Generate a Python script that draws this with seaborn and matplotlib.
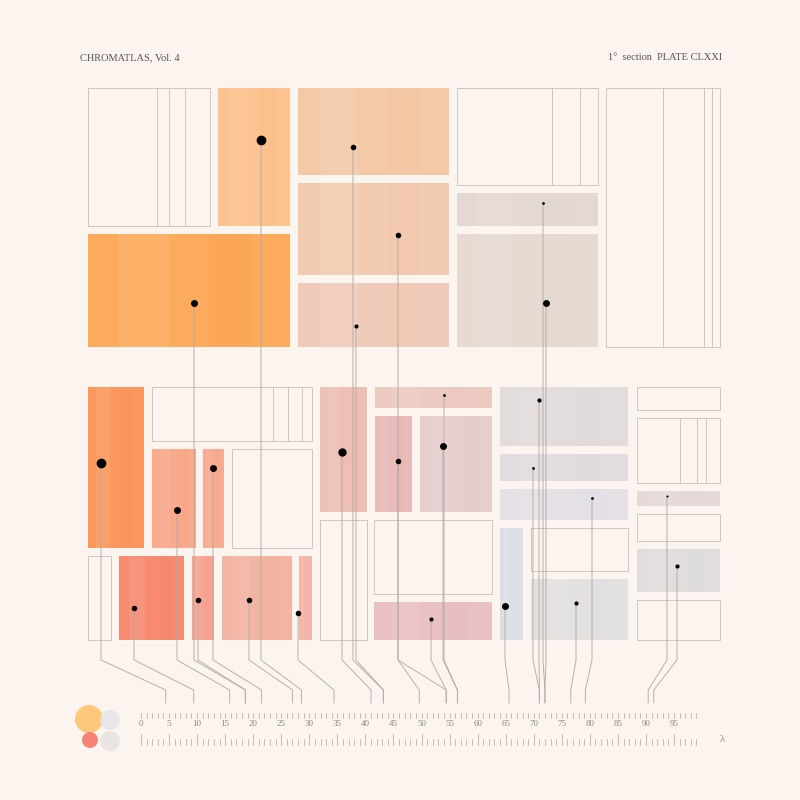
import matplotlib
matplotlib.use("Agg")
import matplotlib.pyplot as plt
import seaborn as sns
from matplotlib.patches import Rectangle, Circle

sns.set_theme(style="white")
plt.rcParams['font.family'] = ['Liberation Serif', 'DejaVu Serif']

BG = "#fcf4ee"
# blocks: x0, y0, x1, y1, fill (None = outline only)
blk_x0 = [88,218,298,298,298,88,457,457,457,606, 88,152,152,203,232,88,119,192,222,299,320,375,375,420,320,374,374,500,500,500,500,531,531,637,637,637,637,637,637]
blk_y0 = [88,88,88,183,283,234,88,193,234,88, 387,387,449,449,449,556,556,556,556,556,387,387,416,416,520,520,602,387,454,489,528,528,579,387,418,491,514,549,600]
blk_x1 = [210,290,449,449,449,290,598,598,598,720, 144,312,196,224,312,111,184,214,292,312,367,492,412,492,367,492,492,628,628,628,523,628,628,720,720,720,720,720,720]
blk_y1 = [226,226,175,275,347,347,185,226,347,347, 548,441,548,548,548,640,640,640,640,640,512,408,512,512,640,594,640,446,481,520,640,571,640,410,483,506,541,592,640]
blk_col = [None,"#fdc08a","#f3c7a3","#f2c9ad","#f1c9b7","#fda654",None,"#e3d7d1","#e5d9d2",None,
           "#fd9356",None,"#f9a587","#f8a78b",None,None,"#f7866b","#f5a08c","#f4b1a0","#f3b2a3",
           "#eebcb2","#ecc8c0","#e8b8b6","#e5cccc",None,None,"#e8bec2","#e2dbdc","#e1dbe0","#e3dfe6",
           "#dcdee6",None,"#e2dfe0",None,None,"#e4d9d7",None,"#dfdcdc",None]
# inner rules of outline blocks
rule_x = [157,169,185,552,580,663,704,712,273,288,302,680,697,706]
rule_y0 = [88,88,88,88,88,88,88,88,387,387,387,418,418,418]
rule_y1 = [226,226,226,185,185,347,347,347,441,441,441,483,483,483]

# markers: position, size, lambda end
dot_x = [101,134,177,194,198,213,249,261,298,342,353,356,398,398,431,443,444,505,533,539,543,546,576,592,667,677]
dot_y = [463,608,510,303,600,468,600,140,613,452,147,326,235,461,619,446,395,606,468,400,203,303,603,498,496,566]
dot_s = [7,4,5,5,4,5,4,7,4,6,4,3,4,4,3,5,2,5,2,3,2,5,3,2,1.5,3]
dot_lam = [4.4,9.4,15.8,18.6,18.6,21.5,27,28.6,34.4,41,43.2,43.2,49.6,54.4,54.4,56.4,56.4,65.6,71,71,72,72,76.6,79.2,90.4,91.4]

ticks_major = list(range(0, 100, 5))

fig = plt.figure(figsize=(8, 8), dpi=100, facecolor=BG)
ax = fig.add_axes([0, 0, 1, 1])
ax.set_xlim(0, 800); ax.set_ylim(800, 0); ax.axis("off")
ax.set_facecolor(BG)

for x0, y0, x1, y1, c in zip(blk_x0, blk_y0, blk_x1, blk_y1, blk_col):
    if c is None:
        ax.add_patch(Rectangle((x0, y0), x1-x0, y1-y0, fill=False, ec="#cfc6c1", lw=0.7))
    else:
        ax.add_patch(Rectangle((x0, y0), x1-x0, y1-y0, fc=c, ec="none", alpha=0.95))
        w = x1 - x0
        ax.add_patch(Rectangle((x0+w*0.15, y0), w*0.25, y1-y0, fc="white", ec="none", alpha=0.08))
        ax.add_patch(Rectangle((x0+w*0.6, y0), w*0.2, y1-y0, fc=c, ec="none", alpha=0.5))
for x, a, b in zip(rule_x, rule_y0, rule_y1):
    ax.plot([x, x], [a, b], color="#cfc6c1", lw=0.7)

def lam2x(l):
    return 141 + l * (674 - 141) / 95

for x, y, s, l in zip(dot_x, dot_y, dot_s, dot_lam):
    ex = lam2x(l)
    ax.plot([x, x, ex, ex], [y, 660, 690, 703], color="#b3aba7", lw=0.65, zorder=3)
    ax.scatter([x], [y], s=s**2, color="black", zorder=4, lw=0)

# scale
for i in range(0, 100):
    X = lam2x(i)
    if X > 697: break
    ax.plot([X, X], [713, 718], color="#bcb3af", lw=0.6)
    h = 11 if i % 5 == 0 else 6
    ax.plot([X, X], [745-h, 745], color="#bcb3af", lw=0.6)
for t in ticks_major:
    ax.text(lam2x(t), 724, str(t), fontsize=6.5, color="#8e8682", ha="center", va="center")
ax.text(722, 739, "λ", fontsize=8, color="#8e8682", ha="center", va="center")

ax.add_patch(Circle((89, 719), 14, fc="#fdc56e", ec="none", alpha=0.9))
ax.add_patch(Circle((110, 720), 10, fc="#e8e6ea", ec="none", alpha=0.9))
ax.add_patch(Circle((90, 740), 8, fc="#f7776a", ec="none", alpha=0.9))
ax.add_patch(Circle((110, 741), 10, fc="#e6e4e2", ec="none", alpha=0.9))

ax.text(80, 58, "CHROMATLAS, Vol. 4", fontsize=7.5, color="#555", ha="left", va="center")
ax.text(722, 58, "1°  section  PLATE CLXXI", fontsize=7.5, color="#555", ha="right", va="center")

fig.savefig("out.png", dpi=100, facecolor=BG)
